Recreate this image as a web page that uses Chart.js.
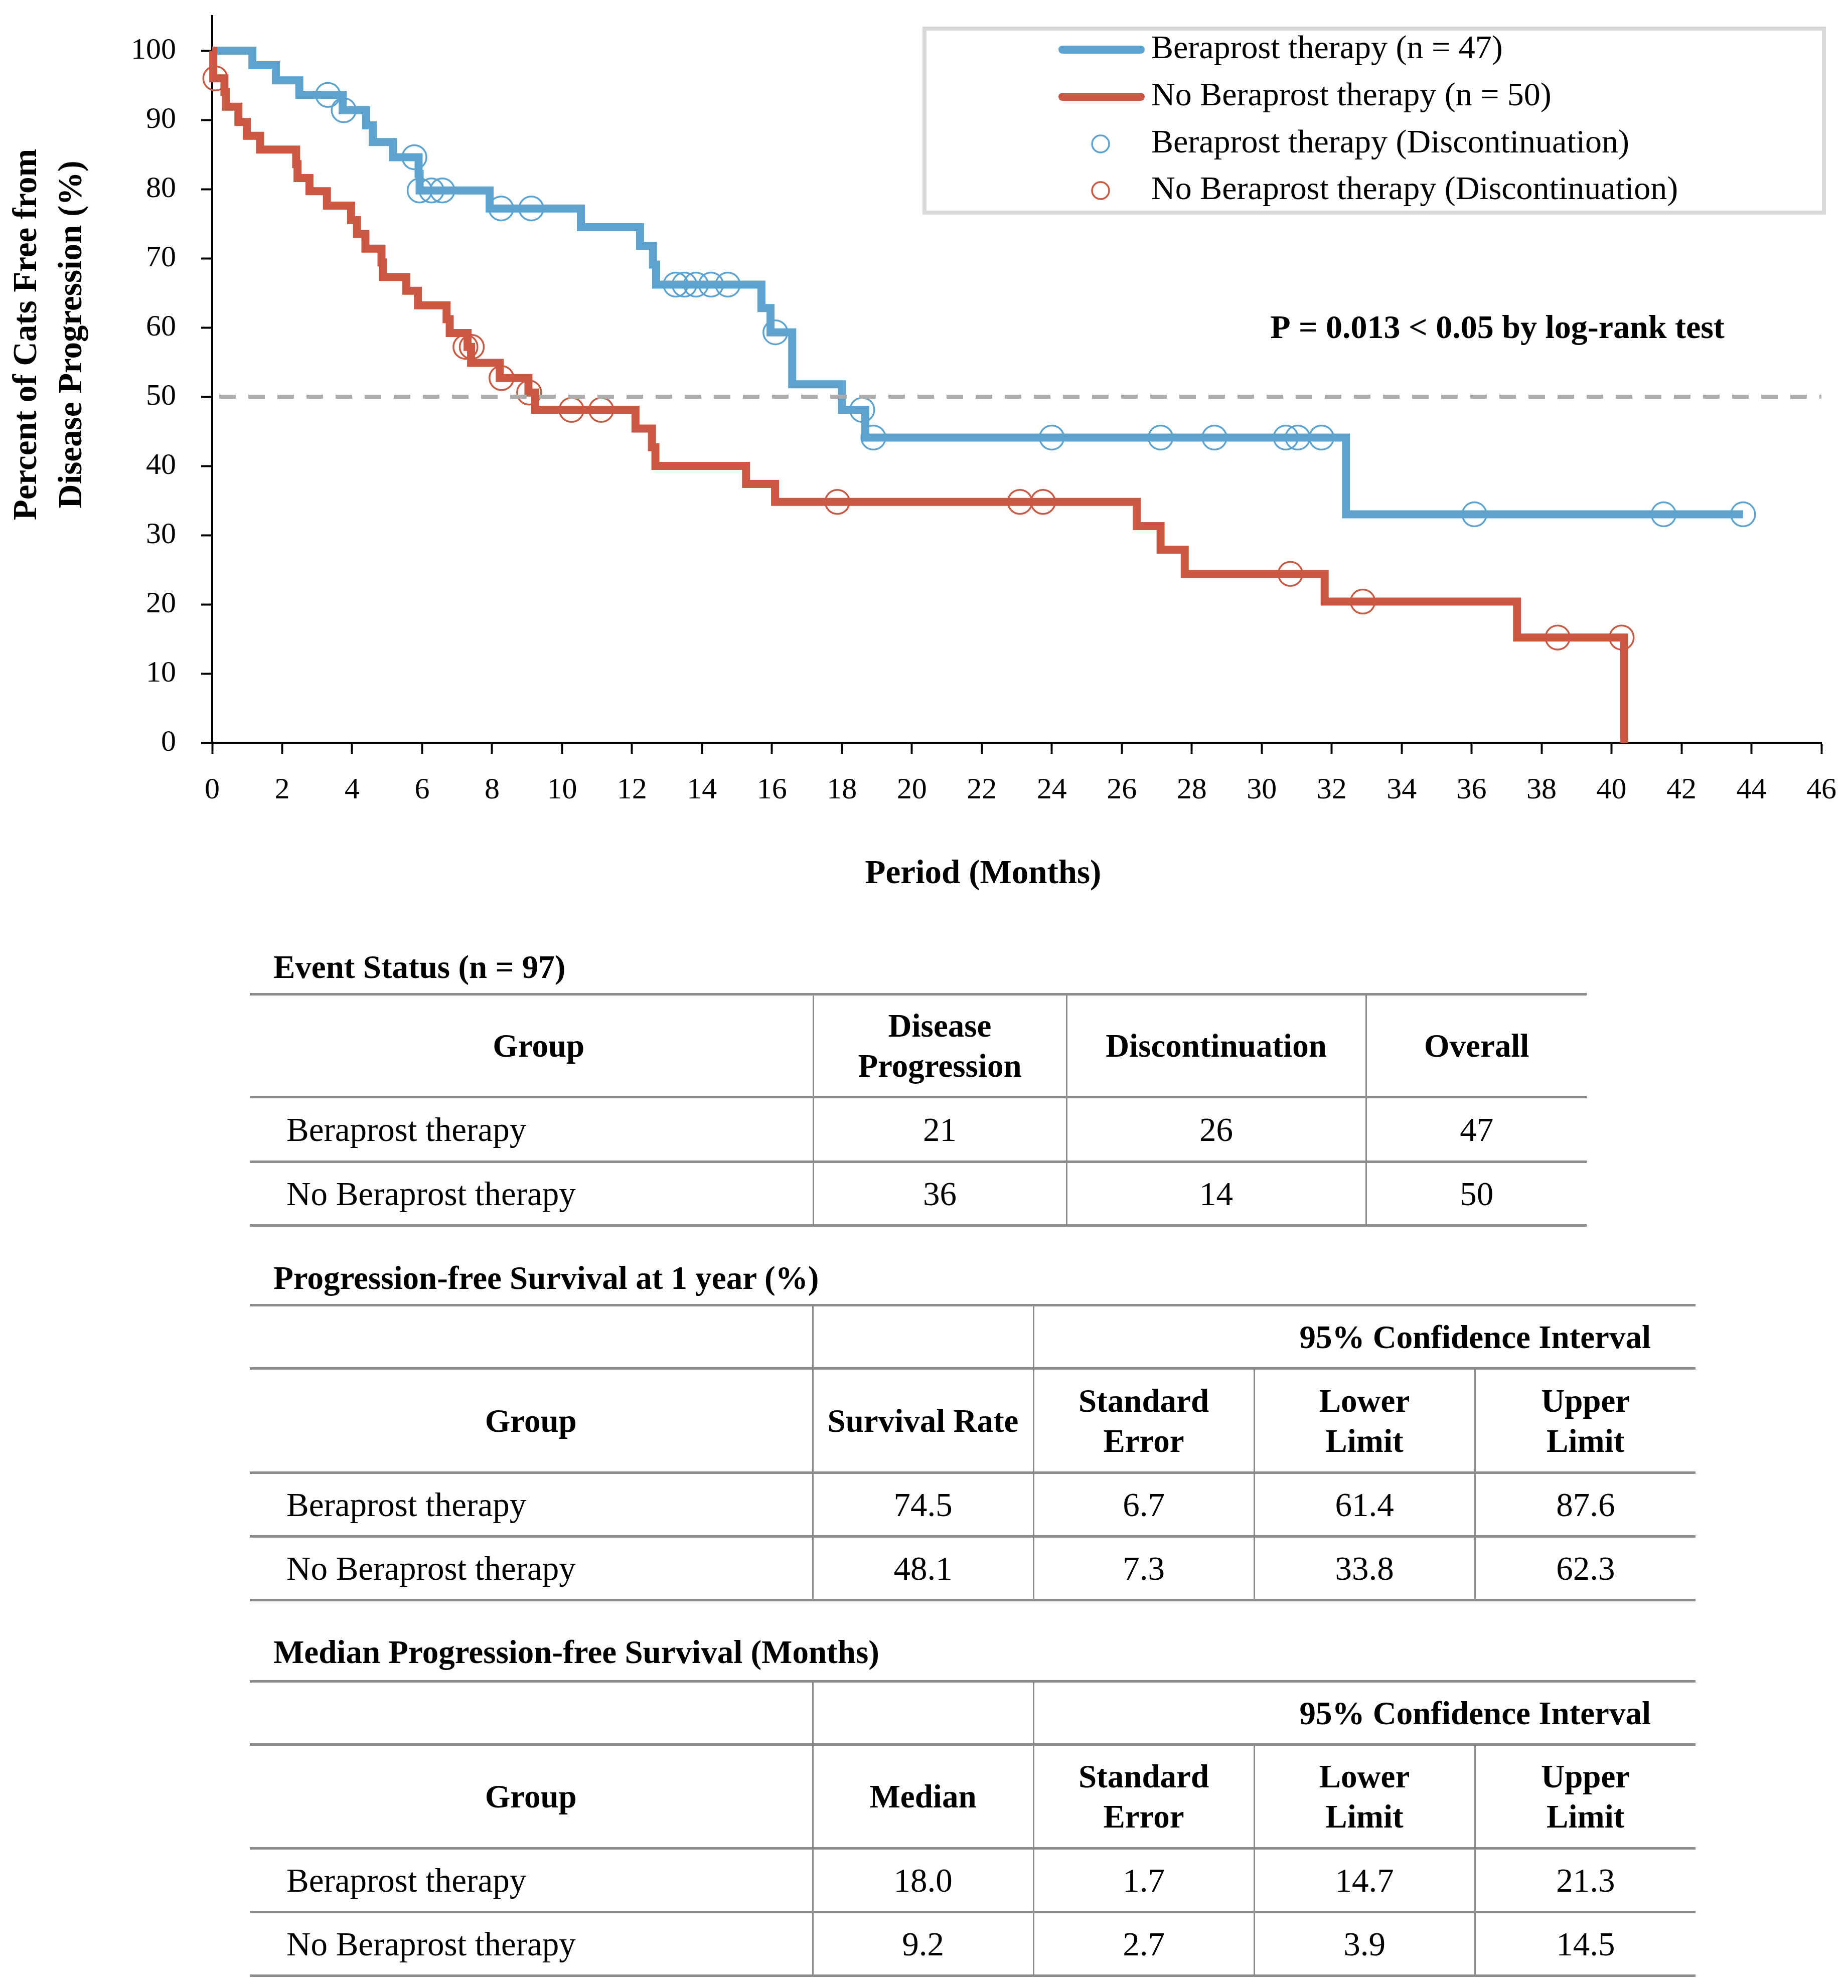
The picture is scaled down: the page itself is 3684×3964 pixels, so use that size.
<!DOCTYPE html>
<html>
<head>
<meta charset="utf-8">
<title>Progression-free survival: Beraprost therapy</title>
<script src="https://cdn.jsdelivr.net/npm/chart.js@4.4.1/dist/chart.umd.min.js"></script>
<style>
  html, body { margin: 0; padding: 0; background: #fff; }
  body {
    width: 3684px; height: 3964px; position: relative; overflow: hidden;
    font-family: "Liberation Serif", "DejaVu Serif", serif; color: #000;
  }
  #kmChart { position: absolute; left: 0; top: 0; }
  .caption {
    position: absolute; left: 545px; font-weight: bold; font-size: 65px;
    line-height: 70px; white-space: nowrap;
  }
  table.stats {
    position: absolute; left: 498px; border-collapse: collapse; table-layout: fixed;
    font-size: 67px;
  }
  table.stats tr { border-top: 5px solid #8c8c8c; border-bottom: 5px solid #8c8c8c; }
  table.stats td {
    padding: 0; text-align: center; vertical-align: middle; line-height: 80px;
    border-left: 3px solid #8c8c8c; white-space: nowrap;
  }
  table.stats td:first-child { border-left: none; }
  table.stats td.grp { text-align: left; padding-left: 73px; }
  table.stats tr.head td { font-weight: bold; font-size: 65px; }
  table.stats td.ci { padding-left: 440px; font-weight: bold; }
  #tblEvent tr.head td:first-child { padding-left: 30px; }
</style>
</head>
<body>
<canvas id="kmChart" width="3684" height="1820"></canvas>

<div class="caption" id="capEvent" style="top:1893px"></div>
<table class="stats" id="tblEvent" style="top:1980px"></table>

<div class="caption" id="capRate" style="top:2513px"></div>
<table class="stats" id="tblRate" style="top:2600px"></table>

<div class="caption" id="capMedian" style="top:3259px"></div>
<table class="stats" id="tblMedian" style="top:3350px"></table>

<script>
/* ---------- courbes de Kaplan-Meier ---------- */

// Beraprost therapy : instants des chutes (mois) et niveau atteint (%)
const BERA_TIME = [0, 1.15, 1.82, 2.49, 3.73, 4.40, 4.59, 5.17, 5.90, 5.93, 7.93,
                   10.54, 12.23, 12.60, 12.69, 15.70, 15.96, 16.58, 18.00, 18.67, 32.41, 43.76];
const BERA_PFS  = [100, 97.9, 95.7, 93.6, 91.4, 89.2, 86.8, 84.6, 82.2, 79.8, 77.2,
                   74.5, 71.8, 69.1, 66.2, 62.8, 59.3, 51.8, 48.1, 44.1, 33.0, 33.0];

// Beraprost therapy : arrêts de traitement (censures)
const BERA_CENS_TIME = [3.31, 3.76, 5.78, 5.93, 6.27, 6.58, 8.26, 9.12, 13.25, 13.50, 13.83,
                        14.26, 14.74, 16.10, 18.58, 18.90, 24.00, 27.11, 28.65, 30.69, 31.03,
                        31.71, 36.08, 41.49, 43.76];
const BERA_CENS_PFS  = [93.6, 91.4, 84.6, 79.8, 79.8, 79.8, 77.2, 77.2, 66.2, 66.2, 66.2,
                        66.2, 66.2, 59.3, 48.1, 44.1, 44.1, 44.1, 44.1, 44.1, 44.1,
                        44.1, 33.0, 33.0, 33.0];

// No Beraprost therapy
const NOBP_TIME = [0, 0.03, 0.35, 0.39, 0.75, 0.99, 1.37, 2.40, 2.44, 2.78, 3.28, 3.97,
                   4.14, 4.38, 4.84, 4.88, 5.55, 5.88, 6.70, 6.79, 7.30, 7.40, 8.22, 9.04,
                   9.23, 12.10, 12.57, 12.67, 15.26, 16.09, 26.43, 27.11, 27.80, 31.80,
                   37.30, 40.36];
const NOBP_PFS  = [100, 96.0, 94.0, 91.9, 89.7, 87.7, 85.7, 83.6, 81.6, 79.7, 77.6, 75.5,
                   73.5, 71.4, 69.4, 67.3, 65.3, 63.2, 61.2, 59.2, 57.2, 54.9, 52.7, 50.6,
                   48.1, 45.4, 42.7, 40.0, 37.4, 34.8, 31.3, 27.9, 24.4, 20.4,
                   15.2, 0];

const NOBP_CENS_TIME = [0.09, 7.24, 7.42, 8.27, 9.06, 10.27, 11.12, 17.87, 23.09, 23.75,
                        30.82, 32.89, 38.46, 40.29];
const NOBP_CENS_PFS  = [96.0, 57.2, 57.2, 52.7, 50.6, 48.1, 48.1, 34.8, 34.8, 34.8,
                        24.4, 20.4, 15.2, 15.2];

const MEDIAN_LINE_X = [0.2, 46];
const MEDIAN_LINE_Y = [50, 50];

const SERIES_NAMES = ["Beraprost therapy (n = 47)", "No Beraprost therapy (n = 50)"];
const CENSOR_NAMES = ["Beraprost therapy (Discontinuation)", "No Beraprost therapy (Discontinuation)"];
const X_TITLE = "Period (Months)";
const Y_TITLE = ["Percent of Cats Free from", "Disease Progression (%)"];
const P_TEXT  = "P = 0.013 < 0.05 by log-rank test";

/* ---------- tableaux ---------- */

const GROUPS      = ["Beraprost therapy", "No Beraprost therapy"];
const EVENT_HEAD  = ["Group", "Disease\nProgression", "Discontinuation", "Overall"];
const EVENT_PROG  = [21, 36];
const EVENT_DISC  = [26, 14];
const EVENT_ALL   = [47, 50];

const RATE_HEAD   = ["Group", "Survival Rate", "Standard\nError", "Lower\nLimit", "Upper\nLimit"];
const RATE_VALUE  = ["74.5", "48.1"];
const RATE_SE     = ["6.7", "7.3"];
const RATE_LOW    = ["61.4", "33.8"];
const RATE_UP     = ["87.6", "62.3"];

const MED_HEAD    = ["Group", "Median", "Standard\nError", "Lower\nLimit", "Upper\nLimit"];
const MED_VALUE   = ["18.0", "9.2"];
const MED_SE      = ["1.7", "2.7"];
const MED_LOW     = ["14.7", "3.9"];
const MED_UP      = ["21.3", "14.5"];

const CAPTIONS = ["Event Status (n = 97)", "Progression-free Survival at 1 year (%)",
                  "Median Progression-free Survival (Months)"];
const CI_LABEL = "95% Confidence Interval";

/* ---------- style ---------- */

const BLUE  = "#5ca3cf";
const RED   = "#cb5842";
const SERIF = '"Liberation Serif", "DejaVu Serif", serif';

const toXY = (xs, ys) => xs.map((x, i) => ({ x, y: ys[i] }));

// légende, titres d'axes et p-valeur dessinés sur le canvas
const kmDecor = {
  id: "kmDecor",
  afterDraw(chart) {
    const ctx = chart.ctx;
    ctx.save();
    ctx.fillStyle = "#000";
    ctx.textBaseline = "middle";

    ctx.font = "bold 67px " + SERIF;
    ctx.textAlign = "center";
    ctx.fillText(X_TITLE, 1960, 1744);
    Y_TITLE.forEach((line, i) => {
      ctx.save();
      ctx.translate(55 + i * 90, 667);
      ctx.rotate(-Math.PI / 2);
      ctx.fillText(line, 0, 0);
      ctx.restore();
    });
    ctx.font = "bold 66px " + SERIF;
    ctx.fillText(P_TEXT, 2985, 657);

    // cadre de légende
    ctx.strokeStyle = "#d9d9d9";
    ctx.lineWidth = 8;
    ctx.strokeRect(1843, 57, 1793, 367);

    const rows = [99, 193, 287, 380];
    const colors = [BLUE, RED];
    ctx.lineCap = "round";
    colors.forEach((c, i) => {
      ctx.strokeStyle = c;
      ctx.lineWidth = 16;
      ctx.beginPath();
      ctx.moveTo(2118, rows[i]);
      ctx.lineTo(2274, rows[i]);
      ctx.stroke();
      ctx.lineWidth = 3.5;
      ctx.beginPath();
      ctx.arc(2194, rows[i + 2], 17, 0, Math.PI * 2);
      ctx.stroke();
    });

    ctx.font = "66px " + SERIF;
    ctx.textAlign = "left";
    SERIES_NAMES.concat(CENSOR_NAMES).forEach((t, i) => ctx.fillText(t, 2295, rows[i]));
    ctx.restore();
  }
};

new Chart(document.getElementById("kmChart"), {
  type: "line",
  data: {
    datasets: [
      {
        label: "50%",
        data: toXY(MEDIAN_LINE_X, MEDIAN_LINE_Y),
        borderColor: "#ababab",
        borderWidth: 8,
        borderDash: [33, 25],
        pointRadius: 0
      },
      {
        label: SERIES_NAMES[1],
        data: toXY(NOBP_TIME, NOBP_PFS),
        stepped: "before",
        borderColor: RED,
        borderWidth: 16,
        borderJoinStyle: "miter",
        pointRadius: 0,
        clip: false
      },
      {
        label: SERIES_NAMES[0],
        data: toXY(BERA_TIME, BERA_PFS),
        stepped: "before",
        borderColor: BLUE,
        borderWidth: 16,
        borderJoinStyle: "miter",
        pointRadius: 0,
        clip: false
      },
      {
        label: CENSOR_NAMES[1],
        data: toXY(NOBP_CENS_TIME, NOBP_CENS_PFS),
        showLine: false,
        pointStyle: "circle",
        pointRadius: 24,
        pointBorderWidth: 3.5,
        pointBorderColor: RED,
        pointBackgroundColor: "rgba(0,0,0,0)",
        clip: false
      },
      {
        label: CENSOR_NAMES[0],
        data: toXY(BERA_CENS_TIME, BERA_CENS_PFS),
        showLine: false,
        pointStyle: "circle",
        pointRadius: 24,
        pointBorderWidth: 3.5,
        pointBorderColor: BLUE,
        pointBackgroundColor: "rgba(0,0,0,0)",
        clip: false
      }
    ]
  },
  options: {
    responsive: false,
    devicePixelRatio: 1,
    animation: false,
    layout: { padding: { top: 32, right: 53, bottom: 0, left: 0 } },
    plugins: {
      legend: { display: false },
      tooltip: { enabled: false }
    },
    scales: {
      x: {
        type: "linear",
        min: 0,
        max: 46,
        afterFit: s => { s.height = 339; s.paddingLeft = 0; s.paddingRight = 0; },
        ticks: {
          stepSize: 2,
          padding: 37,
          color: "#000",
          font: { family: SERIF, size: 60 }
        },
        grid: { drawOnChartArea: false, drawTicks: true, tickLength: 22, tickWidth: 4, tickColor: "#000" },
        border: { color: "#000", width: 4 }
      },
      y: {
        min: 0,
        max: 105,
        afterFit: s => { s.width = 423; s.paddingTop = 0; s.paddingBottom = 0; },
        ticks: {
          stepSize: 10,
          includeBounds: false,
          padding: 50,
          color: "#000",
          font: { family: SERIF, size: 60 }
        },
        grid: { drawOnChartArea: false, drawTicks: true, tickLength: 22, tickWidth: 4, tickColor: "#000" },
        border: { color: "#000", width: 4 }
      }
    }
  },
  plugins: [kmDecor]
});

/* ---------- construction des tableaux ---------- */

function headCell(text) {
  return "<td>" + text.split("\n").join("<br>") + "</td>";
}

function buildTable(id, widths, heights, head, columns, withCI) {
  let html = "<colgroup>" + widths.map(w => `<col style="width:${w}px">`).join("") + "</colgroup>";
  let r = 0;
  if (withCI) {
    html += `<tr class="head" style="height:${heights[r++]}px"><td></td><td></td>` +
            `<td colspan="3" class="ci">${CI_LABEL}</td></tr>`;
  }
  html += `<tr class="head" style="height:${heights[r++]}px">` + head.map(headCell).join("") + "</tr>";
  GROUPS.forEach((g, i) => {
    html += `<tr style="height:${heights[r++]}px"><td class="grp">${g}</td>` +
            columns.map(col => `<td>${col[i]}</td>`).join("") + "</tr>";
  });
  document.getElementById(id).innerHTML = html;
}

document.getElementById("capEvent").textContent  = CAPTIONS[0];
document.getElementById("capRate").textContent   = CAPTIONS[1];
document.getElementById("capMedian").textContent = CAPTIONS[2];

buildTable("tblEvent", [1123, 505, 597, 440], [205, 129, 127],
           EVENT_HEAD, [EVENT_PROG, EVENT_DISC, EVENT_ALL], false);
buildTable("tblRate", [1122, 440, 440, 440, 440], [126, 208, 127, 127],
           RATE_HEAD, [RATE_VALUE, RATE_SE, RATE_LOW, RATE_UP], true);
buildTable("tblMedian", [1122, 440, 440, 440, 440], [126, 207, 127, 127],
           MED_HEAD, [MED_VALUE, MED_SE, MED_LOW, MED_UP], true);
</script>
</body>
</html>
